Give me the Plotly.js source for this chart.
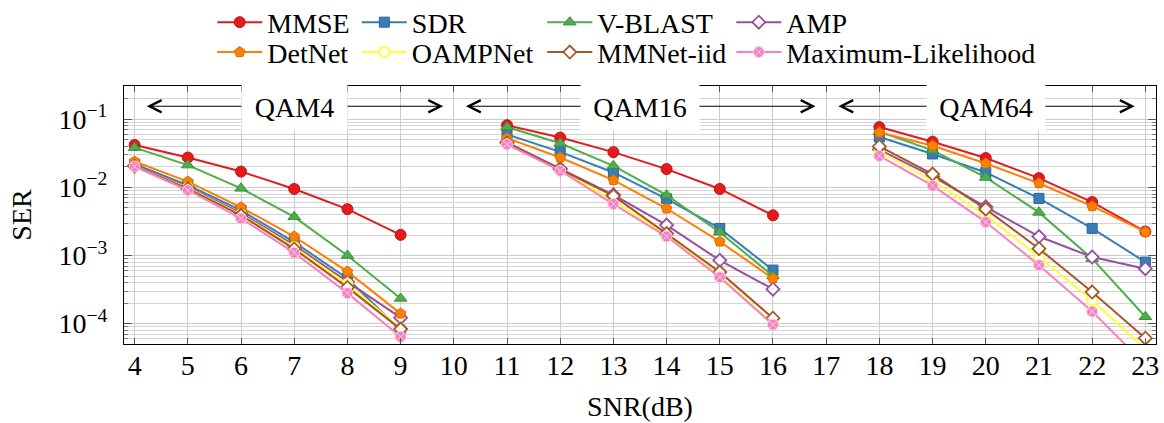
<!DOCTYPE html>
<html>
<head>
<meta charset="utf-8">
<script src="https://cdn.plot.ly/plotly-3.0.1.min.js"></script>
<style>
  html, body { margin: 0; padding: 0; background: #ffffff; }
  #chart { width: 1164px; height: 423px; }
</style>
</head>
<body>
<div id="chart"></div>
<script>
// SNR grid in dB; null entries at 10 and 17 dB separate the three modulation blocks
const snr = [4, 5, 6, 7, 8, 9, 10, 11, 12, 13, 14, 15, 16, 17, 18, 19, 20, 21, 22, 23];

// Symbol error rate per detector (QAM4: 4-9 dB, QAM16: 11-16 dB, QAM64: 18-23 dB)
const mmse    = [0.042, 0.0275, 0.0171, 0.0095, 0.0048, 0.00201, null, 0.082, 0.054, 0.033, 0.0186, 0.0095, 0.0039, null, 0.077, 0.047, 0.027, 0.0137, 0.0061, 0.00225];
const sdr     = [0.022, 0.0108, 0.0046, 0.00157, 0.00046, 0.00008, null, 0.060, 0.0333, 0.0166, 0.0068, 0.0025, 0.00061, null, 0.055, 0.031, 0.0166, 0.0069, 0.0025, 0.0008];
const vblast  = [0.0385, 0.0213, 0.0097, 0.0037, 0.001, 0.000234, null, 0.077, 0.0446, 0.0208, 0.0077, 0.0022, 0.0005, null, 0.066, 0.035, 0.014, 0.0043, 0.0009, 0.000126];
const amp     = [0.021, 0.0101, 0.0042, 0.00142, 0.00041, 0.000122, null, 0.046, 0.019, 0.0078, 0.0028, 0.00085, 0.00032, null, 0.036, 0.0145, 0.0052, 0.0019, 0.00095, 0.00064];
const detnet  = [0.024, 0.0122, 0.0051, 0.0019, 0.00058, 0.00014, null, 0.053, 0.0275, 0.0128, 0.0049, 0.0016, 0.00046, null, 0.064, 0.041, 0.0225, 0.0115, 0.0053, 0.00222];
const oampnet = [0.0205, 0.0098, 0.0040, 0.00133, 0.00038, 0.000085, null, 0.044, 0.018, 0.0064, 0.0020, 0.0005, 0.0001, null, 0.034, 0.0125, 0.0039, 0.00095, 0.00022, 0.000042];
const mmnet   = [0.0205, 0.0096, 0.0039, 0.00125, 0.00034, 0.000083, null, 0.045, 0.0185, 0.0075, 0.0021, 0.00057, 0.00012, null, 0.040, 0.0157, 0.0048, 0.00126, 0.00029, 0.000061];
const ml      = [0.0203, 0.0091, 0.0035, 0.0011, 0.00028, 0.000064, null, 0.043, 0.0176, 0.0057, 0.0019, 0.00048, 0.0000965, null, 0.029, 0.0106, 0.0031, 0.00072, 0.00015, 0.000025];

// Axis ticks
const xTicks = [4, 5, 6, 7, 8, 9, 10, 11, 12, 13, 14, 15, 16, 17, 18, 19, 20, 21, 22, 23];
const yTickVals = [1e-4, 1e-3, 1e-2, 1e-1];
const yTickText = ['10<sup>\u22124</sup>', '10<sup>\u22123</sup>', '10<sup>\u22122</sup>', '10<sup>\u22121</sup>'];

// Modulation block labels
const blockNames = ['QAM4', 'QAM16', 'QAM64'];
const blockCenters = [7, 13.5, 20];
const blockStarts = [4.2, 10.2, 17.2];
const blockEnds = [9.8, 16.8, 22.8];

const FONT = 'Liberation Serif';

function series(name, y, color, marker, legendId) {
  return {
    type: 'scatter', mode: 'lines+markers', name: name, x: snr, y: y,
    connectgaps: false, legend: legendId,
    line: { color: color, width: 2 },
    marker: marker
  };
}

const traces = [
  series('MMSE', mmse, '#e41a1c', { symbol: 'circle', size: 11, color: '#e41a1c', line: { color: '#c0121a', width: 1 } }, 'legend'),
  series('SDR', sdr, '#377eb8', { symbol: 'square', size: 10, color: '#377eb8', line: { color: '#2c6496', width: 1 } }, 'legend2'),
  series('V-BLAST', vblast, '#4daf4a', { symbol: 'triangle-up', size: 11, color: '#4daf4a', line: { color: '#3c8f3a', width: 1 } }, 'legend3'),
  series('AMP', amp, '#984ea3', { symbol: 'diamond', size: 10, color: '#ffffff', line: { color: '#984ea3', width: 1.8 } }, 'legend4'),
  series('DetNet', detnet, '#ff7f00', { symbol: 'pentagon', size: 11, color: '#ff7f00', line: { color: '#d96c00', width: 1 } }, 'legend5'),
  series('OAMPNet', oampnet, '#ffff33', { symbol: 'circle', size: 10, color: '#ffffff', line: { color: '#ffff33', width: 2 } }, 'legend6'),
  series('MMNet-iid', mmnet, '#a65628', { symbol: 'diamond', size: 10, color: '#ffffff', line: { color: '#a65628', width: 1.8 } }, 'legend7'),
  series('Maximum-Likelihood', ml, '#f781bf', { symbol: 'circle-x', size: 11, color: '#f781bf', line: { color: '#fcd3e8', width: 1 } }, 'legend8')
];

// One single-entry legend per slot: four columns in two rows above the plot
const legendCols = [0.0855, 0.2256, 0.4053, 0.5885];
const legendRows = [1.2463, 1.1303];
function legendBox(col, row) {
  return {
    x: legendCols[col], xanchor: 'left', y: legendRows[row], yanchor: 'middle',
    orientation: 'v', bgcolor: 'rgba(0,0,0,0)', borderwidth: 0, itemwidth: 45,
    font: { family: FONT, size: 28, color: '#000000' }
  };
}

const annotations = [];
for (let i = 0; i < blockNames.length; i++) {
  annotations.push({
    xref: 'x', yref: 'paper', x: blockEnds[i], y: 0.9215,
    axref: 'x', ayref: 'pixel', ax: blockStarts[i], ay: 0,
    text: '', showarrow: true, arrowside: 'end+start',
    arrowhead: 5, startarrowhead: 5, arrowsize: 2, startarrowsize: 2,
    arrowwidth: 1.2, arrowcolor: '#000000', standoff: 0, startstandoff: 0
  });
}
for (let i = 0; i < blockNames.length; i++) {
  annotations.push({
    xref: 'x', yref: 'paper', x: blockCenters[i], y: 0.9157,
    xanchor: 'center', yanchor: 'middle',
    text: blockNames[i], showarrow: false,
    bgcolor: '#ffffff', borderpad: 0,
    width: i === 0 ? 105 : 118, height: 45,
    font: { family: FONT, size: 28, color: '#000000' }
  });
}

const layout = {
  width: 1164, height: 423,
  margin: { l: 123.7, r: 8.3, t: 85.7, b: 78.7, autoexpand: false },
  paper_bgcolor: '#ffffff', plot_bgcolor: '#ffffff',
  font: { family: FONT, size: 28, color: '#000000' },
  xaxis: {
    range: [3.8, 23.2], tickmode: 'array', tickvals: xTicks,
    ticks: 'inside', ticklen: 6, tickcolor: '#555555', tickwidth: 1,
    showgrid: true, gridcolor: '#cccccc', gridwidth: 1,
    showline: true, linecolor: '#000000', linewidth: 1, mirror: 'ticks',
    zeroline: false, ticklabelstandoff: -4,
    tickfont: { family: FONT, size: 28 },
    title: { text: 'SNR(dB)', font: { family: FONT, size: 28 }, standoff: 16 }
  },
  yaxis: {
    type: 'log', range: [-4.3, -0.51],
    tickmode: 'array', tickvals: yTickVals, ticktext: yTickText,
    ticks: 'inside', ticklen: 8, tickcolor: '#555555', tickwidth: 1,
    showgrid: true, gridcolor: '#cccccc', gridwidth: 1,
    minor: { dtick: 'D1', ticks: 'inside', ticklen: 4, tickcolor: '#777777', showgrid: true, gridcolor: '#d4d4d4', gridwidth: 1 },
    showline: true, linecolor: '#000000', linewidth: 1, mirror: 'ticks',
    zeroline: false, ticklabelstandoff: 10,
    tickfont: { family: FONT, size: 28 },
    title: { text: 'SER', font: { family: FONT, size: 28 }, standoff: 18 }
  },
  legend: legendBox(0, 0), legend2: legendBox(1, 0), legend3: legendBox(2, 0), legend4: legendBox(3, 0),
  legend5: legendBox(0, 1), legend6: legendBox(1, 1), legend7: legendBox(2, 1), legend8: legendBox(3, 1),
  annotations: annotations,
  showlegend: true
};

Plotly.newPlot('chart', traces, layout, { staticPlot: true, displayModeBar: false });
</script>
</body>
</html>
